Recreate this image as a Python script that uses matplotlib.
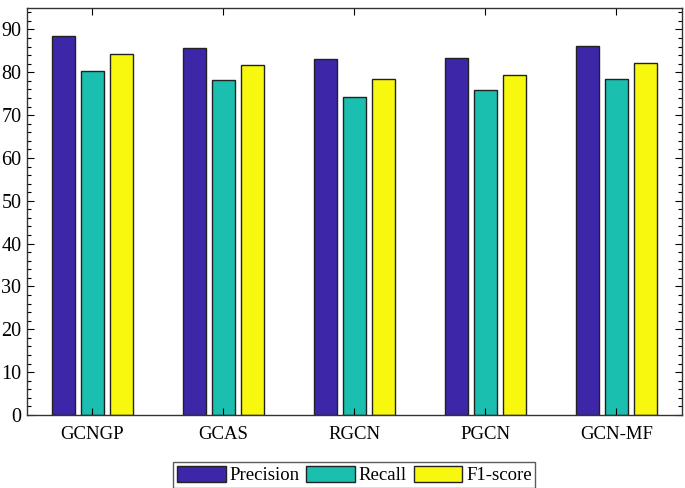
import numpy as np
import matplotlib.pyplot as plt
from matplotlib.ticker import MultipleLocator

methods = ["GCNGP", "GCAS", "RGCN", "PGCN", "GCN-MF"]
precision = [88.5, 85.6, 83.2, 83.4, 86.1]
recall = [80.2, 78.1, 74.3, 75.9, 78.5]
f1_score = [84.3, 81.6, 78.5, 79.4, 82.1]

series = [
    ("Precision", precision, "#3d26a8"),
    ("Recall", recall, "#1bbfb0"),
    ("F1-score", f1_score, "#f8f80f"),
]

plt.rcParams["font.family"] = ["Liberation Serif", "DejaVu Serif"]

fig = plt.figure(figsize=(6.85, 4.88), dpi=100)
ax = fig.add_axes([0.0394, 0.1496, 0.9562, 0.834])

x = np.arange(1, len(methods) + 1)
width = 0.18
offsets = [-0.222, 0.0, 0.222]
for (label, vals, color), off in zip(series, offsets):
    ax.bar(x + off, vals, width, color=color, edgecolor="#222222",
           linewidth=1.0, label=label)

ax.set_xlim(0.5, 5.5)
ax.set_ylim(0, 95)
ax.set_xticks(x)
ax.set_xticklabels(methods, fontsize=13.5)
ax.yaxis.set_major_locator(MultipleLocator(10))
ax.yaxis.set_minor_locator(MultipleLocator(2))
ax.tick_params(axis="both", which="both", direction="in", top=True, right=True)
ax.tick_params(axis="both", which="major", length=5, width=0.8)
ax.tick_params(axis="y", which="minor", length=3, width=0.8)
ax.tick_params(axis="y", labelsize=14.5, pad=4)
ax.tick_params(axis="x", pad=8)
for s in ax.spines.values():
    s.set_color("#333333")
    s.set_linewidth(1.0)

leg = ax.legend(loc="upper center", bbox_to_anchor=(0.5, -0.115), ncol=3,
                fontsize=13.5, frameon=True, fancybox=False, edgecolor="#333333",
                handlelength=2.6, handleheight=0.95, handletextpad=0.2,
                columnspacing=0.35, borderpad=0.2, borderaxespad=0)
leg.get_frame().set_linewidth(1.0)

fig.savefig("out.png", dpi=100)
